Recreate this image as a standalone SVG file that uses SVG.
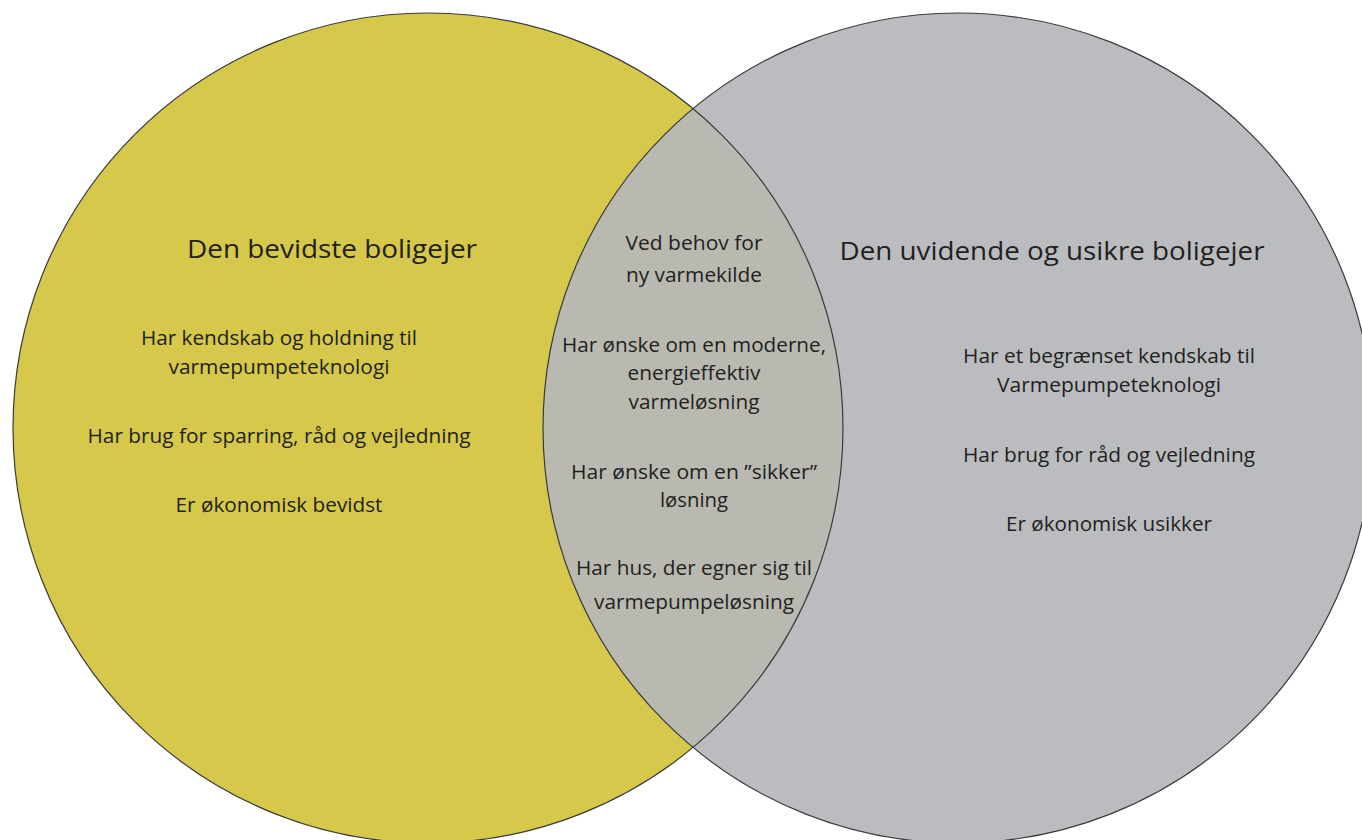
<svg xmlns="http://www.w3.org/2000/svg" width="1362" height="840" viewBox="0 0 1362 840">
<defs>
<style>
.t{font-family:"Open Sans","Noto Sans","Liberation Sans",sans-serif;font-size:19.5px;fill:#231f20;text-anchor:middle}
.h{font-family:"Open Sans","Noto Sans","Liberation Sans",sans-serif;font-size:26px;fill:#231f20;text-anchor:middle}
.edge{fill:none;stroke:#3a3a3a;stroke-width:1.2}
</style>
<clipPath id="clipL"><circle cx="428" cy="428" r="415"/></clipPath>
</defs>
<rect width="1362" height="840" fill="#ffffff"/>
<g id="circle-left">
<circle cx="428" cy="428" r="415" fill="#d5c84a"/>
</g>
<g id="circle-right">
<circle cx="958" cy="428" r="415" fill="#bbbcbf"/>
</g>
<g id="overlap">
<circle cx="958" cy="428" r="415" fill="#b9b9b1" clip-path="url(#clipL)"/>
</g>
<g id="outlines">
<circle class="edge" cx="428" cy="428" r="415"/>
<circle class="edge" cx="958" cy="428" r="415"/>
</g>
<g id="left-text">
<text class="h" x="332" y="258" textLength="290" lengthAdjust="spacingAndGlyphs">Den bevidste boligejer</text>
<text class="t" x="279" y="345" textLength="276" lengthAdjust="spacingAndGlyphs">Har kendskab og holdning til</text>
<text class="t" x="279" y="374" textLength="221" lengthAdjust="spacingAndGlyphs">varmepumpeteknologi</text>
<text class="t" x="279" y="443" textLength="383" lengthAdjust="spacingAndGlyphs">Har brug for sparring, råd og vejledning</text>
<text class="t" x="279" y="512" textLength="207" lengthAdjust="spacingAndGlyphs">Er økonomisk bevidst</text>
</g>
<g id="middle-text">
<text class="t" x="694" y="250" textLength="137" lengthAdjust="spacingAndGlyphs">Ved behov for</text>
<text class="t" x="694" y="282" textLength="136" lengthAdjust="spacingAndGlyphs">ny varmekilde</text>
<text class="t" x="694" y="352" textLength="264" lengthAdjust="spacingAndGlyphs">Har ønske om en moderne,</text>
<text class="t" x="694" y="380" textLength="133" lengthAdjust="spacingAndGlyphs">energieffektiv</text>
<text class="t" x="694" y="409" textLength="131" lengthAdjust="spacingAndGlyphs">varmeløsning</text>
<text class="t" x="694" y="479" textLength="246" lengthAdjust="spacingAndGlyphs">Har ønske om en ”sikker”</text>
<text class="t" x="694" y="507" textLength="68" lengthAdjust="spacingAndGlyphs">løsning</text>
<text class="t" x="694" y="575" textLength="236" lengthAdjust="spacingAndGlyphs">Har hus, der egner sig til</text>
<text class="t" x="694" y="609" textLength="200" lengthAdjust="spacingAndGlyphs">varmepumpeløsning</text>
</g>
<g id="right-text">
<text class="h" x="1052" y="260" textLength="425" lengthAdjust="spacingAndGlyphs">Den uvidende og usikre boligejer</text>
<text class="t" x="1109" y="363" textLength="292" lengthAdjust="spacingAndGlyphs">Har et begrænset kendskab til</text>
<text class="t" x="1109" y="392" textLength="224" lengthAdjust="spacingAndGlyphs">Varmepumpeteknologi</text>
<text class="t" x="1109" y="462" textLength="292" lengthAdjust="spacingAndGlyphs">Har brug for råd og vejledning</text>
<text class="t" x="1109" y="531" textLength="206" lengthAdjust="spacingAndGlyphs">Er økonomisk usikker</text>
</g>
</svg>
